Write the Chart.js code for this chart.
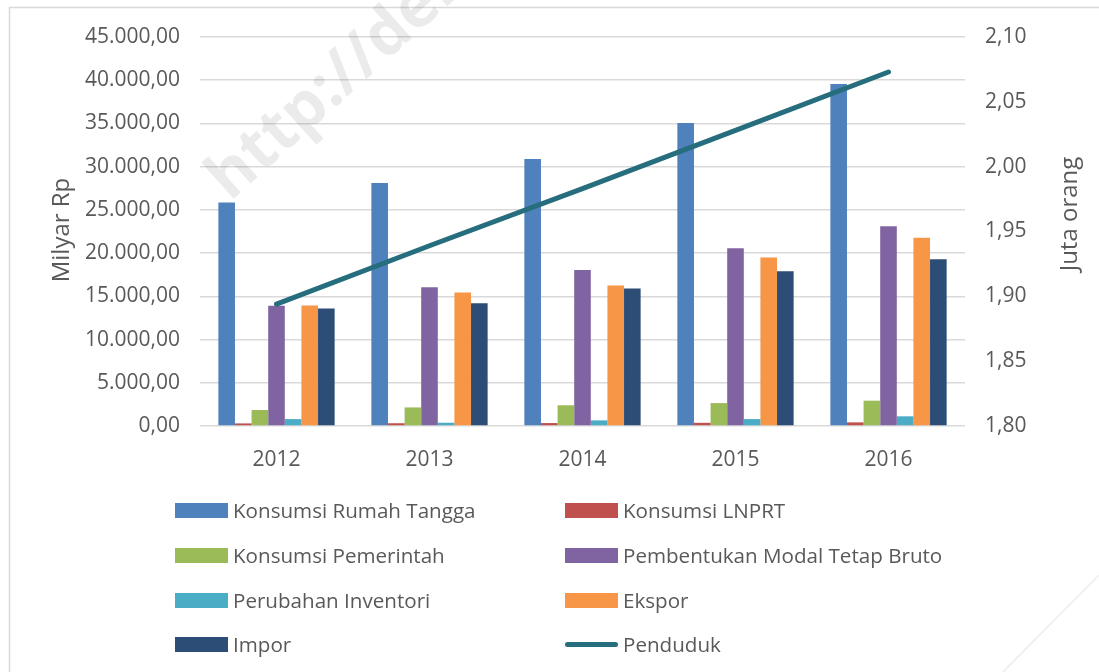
<!DOCTYPE html>
<html>
<head>
<meta charset="utf-8">
<script src="https://cdn.jsdelivr.net/npm/chart.js@4/dist/chart.umd.min.js"></script>
<style>
  html, body { margin: 0; padding: 0; background: #fff; }
  #wrap { position: relative; width: 1099px; height: 672px; overflow: hidden; }
  #c { position: absolute; left: 0; top: 0; }
  .leg { position: absolute; height: 30px; display: flex; align-items: center;
         font-family: "Open Sans", sans-serif; font-size: 20.6px; color: #595959; white-space: nowrap; }
  .leg .box { width: 53px; height: 15px; margin-right: 5px; }
  .leg .ln { width: 53px; height: 5px; border-radius: 3px; margin-right: 5px; }
</style>
</head>
<body>
<div id="wrap">
  <canvas id="c" width="1099" height="672"></canvas>
  <div id="legend"></div>
</div>
<script>
// data
const years = ['2012', '2013', '2014', '2015', '2016'];
const rumahTangga = [25850, 28100, 30900, 35050, 39550];
const lnprt = [300, 320, 340, 370, 420];
const pemerintah = [1850, 2150, 2400, 2650, 2930];
const pmtb = [13900, 16050, 18050, 20550, 23100];
const inventori = [800, 380, 650, 800, 1120];
const ekspor = [13950, 15450, 16250, 19500, 21780];
const impor = [13600, 14200, 15900, 17900, 19280];
const penduduk = [1.894, 1.939, 1.983, 2.028, 2.073];

const textColor = '#595959';
const gridColor = '#d9d9d9';
const fontFam = '"Open Sans", sans-serif';

function fmtRp(v) {
    const s = Math.round(v).toString().replace(/\B(?=(\d{3})+(?!\d))/g, '.');
    return s + ',00';
}

const barSeries = [
    { label: 'Konsumsi Rumah Tangga', data: rumahTangga, color: '#4f81bd' },
    { label: 'Konsumsi LNPRT', data: lnprt, color: '#c0504d' },
    { label: 'Konsumsi Pemerintah', data: pemerintah, color: '#9bbb59' },
    { label: 'Pembentukan Modal Tetap Bruto', data: pmtb, color: '#8064a2' },
    { label: 'Perubahan Inventori', data: inventori, color: '#4bacc6' },
    { label: 'Ekspor', data: ekspor, color: '#f79646' },
    { label: 'Impor', data: impor, color: '#2c4d75' }
];
const lineColor = '#266e7d';

const datasets = barSeries.map(s => ({
    type: 'bar',
    label: s.label,
    data: s.data,
    backgroundColor: s.color,
    yAxisID: 'y',
    order: 1,
    categoryPercentage: 0.76,
    barPercentage: 1.0
}));
datasets.push({
    type: 'line',
    label: 'Penduduk',
    data: penduduk,
    borderColor: lineColor,
    borderWidth: 5,
    borderCapStyle: 'round',
    pointRadius: 0,
    tension: 0,
    yAxisID: 'y1',
    order: 0
});

// titles, watermark and frame drawn on the canvas
const extras = {
    id: 'extras',
    beforeDraw(chart) {
        const ctx = chart.ctx;
        ctx.save();
        ctx.strokeStyle = '#d9d9d9';
        ctx.lineWidth = 1.5;
        ctx.beginPath();
        ctx.moveTo(9.5, 700);
        ctx.lineTo(9.5, 7.5);
        ctx.lineTo(1110, 7.5);
        ctx.stroke();
        ctx.strokeStyle = '#ececec';
        ctx.beginPath();
        ctx.moveTo(1099, 575);
        ctx.lineTo(1003, 672);
        ctx.stroke();
        ctx.restore();
    },
    afterDraw(chart) {
        const ctx = chart.ctx;
        ctx.save();
        ctx.fillStyle = textColor;
        ctx.font = '24px ' + fontFam;
        ctx.textAlign = 'center';
        ctx.textBaseline = 'middle';
        ctx.save();
        ctx.translate(62, 230);
        ctx.rotate(-Math.PI / 2);
        ctx.fillText('Milyar Rp', 0, 0);
        ctx.restore();
        ctx.save();
        ctx.translate(1070, 214);
        ctx.rotate(-Math.PI / 2);
        ctx.fillText('Juta orang', 0, 0);
        ctx.restore();
        // watermark
        ctx.save();
        ctx.translate(230, 202);
        ctx.rotate(-42 * Math.PI / 180);
        ctx.fillStyle = 'rgba(0,0,0,0.08)';
        ctx.font = 'bold 64px ' + fontFam;
        ctx.textAlign = 'left';
        ctx.textBaseline = 'alphabetic';
        ctx.fillText('http://del', 0, 0);
        ctx.restore();
        ctx.restore();
    }
};

new Chart(document.getElementById('c'), {
    data: { labels: years, datasets: datasets },
    options: {
        responsive: false,
        animation: false,
        layout: { padding: { top: 37, bottom: 196, left: 0, right: 0 } },
        plugins: {
            legend: { display: false },
            tooltip: { enabled: false }
        },
        scales: {
            x: {
                grid: { display: false },
                border: { display: false },
                ticks: { color: textColor, font: { family: fontFam, size: 21 }, padding: 13 },
                afterFit: s => { s.height = 50; }
            },
            y: {
                position: 'left',
                min: 0,
                max: 45000,
                ticks: {
                    stepSize: 5000,
                    color: textColor,
                    font: { family: fontFam, size: 21 },
                    padding: 20,
                    callback: v => fmtRp(v)
                },
                grid: { color: gridColor, lineWidth: 1.5, drawTicks: false },
                border: { display: false },
                afterFit: s => { s.width = 200; }
            },
            y1: {
                position: 'right',
                min: 1.8,
                max: 2.1,
                ticks: {
                    stepSize: 0.05,
                    color: textColor,
                    font: { family: fontFam, size: 21 },
                    padding: 20,
                    callback: v => v.toFixed(2).replace('.', ',')
                },
                grid: { display: false, drawTicks: false },
                border: { display: false },
                afterFit: s => { s.width = 134; }
            }
        }
    },
    plugins: [extras]
});

// legend in two columns, built from the datasets
const legendRows = [510, 555, 600, 644];
const legendCols = [175, 565];
const legendEl = document.getElementById('legend');
datasets.forEach((ds, i) => {
    const item = document.createElement('div');
    item.className = 'leg';
    item.style.left = legendCols[i % 2] + 'px';
    item.style.top = (legendRows[Math.floor(i / 2)] - 15) + 'px';
    const mark = document.createElement('span');
    if (ds.type === 'line') {
        mark.className = 'ln';
        mark.style.background = ds.borderColor;
    } else {
        mark.className = 'box';
        mark.style.background = ds.backgroundColor;
    }
    item.appendChild(mark);
    item.appendChild(document.createTextNode(ds.label));
    legendEl.appendChild(item);
});
</script>
</body>
</html>
